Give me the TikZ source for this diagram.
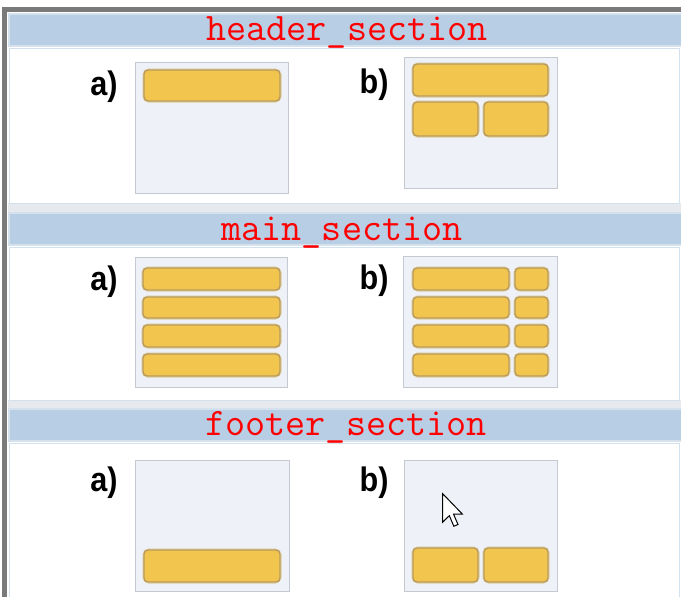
\documentclass[tikz,border=0pt]{standalone}
\usepackage{fontspec}
\setmainfont{Liberation Sans}
\definecolor{framegray}{HTML}{7A7A7A}
\definecolor{barouter}{HTML}{D5E2EE}
\definecolor{barfill}{HTML}{B7CEE5}
\definecolor{sepgray}{HTML}{E6EAEE}
\definecolor{whiteborder}{HTML}{D3E1EE}
\definecolor{panelfill}{HTML}{EEF2F8}
\definecolor{panelborder}{HTML}{C5CAD2}
\definecolor{goldfill}{HTML}{F2C54E}
\definecolor{goldedge}{HTML}{B99A5C}
\definecolor{goldshadow}{HTML}{E3D9B8}
\definecolor{titlered}{HTML}{FF0000}
\tikzset{
  titlebar/.style={fill=barfill, draw=barouter, line width=2pt},
  whitearea/.style={fill=white, draw=whiteborder, line width=1pt},
  sepband/.style={fill=sepgray},
  panel/.style={fill=panelfill, draw=panelborder, line width=1pt},
  goldbar/.style={fill=goldfill, draw=goldedge, line width=1.4pt, rounded corners=4pt},
  goldhalo/.style={draw=goldshadow, line width=3.5pt, rounded corners=5pt},
  titletext/.style={text=titlered, font=\ttfamily\fontsize{39}{39}\selectfont, anchor=base, inner sep=0pt},
  labeltext/.style={font=\bfseries\fontsize{34}{34}\selectfont, text=black, inner sep=0pt, xscale=0.9},
}
\newcommand{\gbar}[4]{%
  \draw[goldhalo] (#1,#2) rectangle (#3,#4);
  \draw[goldbar] (#1,#2) rectangle (#3,#4);}
\begin{document}
\begin{tikzpicture}[x=1pt,y=-1pt]
\useasboundingbox (0,0) rectangle (681,597);
\fill[white] (0,0) rectangle (681,597);
% frame
\fill[framegray] (2,7) rectangle (681,12);
\fill[framegray] (2,7) rectangle (7,597);
% separator bands
\fill[sepband] (8,203) rectangle (681,213);
\fill[sepband] (8,400) rectangle (681,409);
% section 1
\draw[titlebar] (9,14) rectangle (682,46);
\draw[whitearea] (9.5,48.5) rectangle (679.5,203.5);
% section 2
\draw[titlebar] (9,213) rectangle (682,245);
\draw[whitearea] (9.5,247.5) rectangle (679.5,400.5);
% section 3
\draw[titlebar] (9,409) rectangle (682,441);
\draw[whitearea] (9.5,443.5) rectangle (679.5,600);
% titles
\node[titletext] (t1) at (347,41) {header\_section};
\node[titletext] (t2) at (342,240) {main\_section};
\node[titletext] (t3) at (346,435) {footer\_section};
% labels
\node[labeltext] (ha) at (104,87) {a)};
\node[labeltext] (hb) at (374,85) {b)};
\node[labeltext] (ma) at (104,282) {a)};
\node[labeltext] (mb) at (374,281) {b)};
\node[labeltext] (fa) at (104,483) {a)};
\node[labeltext] (fb) at (374,483) {b)};
% header panels
\draw[panel] (135.5,62.5) rectangle (288.5,193.5);
\gbar{144}{70}{280}{101}
\draw[panel] (404.5,57.5) rectangle (557.5,188.5);
\gbar{413}{64}{548}{96}
\gbar{413}{102}{478}{136}
\gbar{484}{102}{548}{136}
% main panels
\draw[panel] (135.5,257.5) rectangle (287.5,387.5);
\gbar{143}{268}{280}{290}
\gbar{143}{297}{280}{318}
\gbar{143}{325}{280}{347}
\gbar{143}{354}{280}{376}
\draw[panel] (403.5,256.5) rectangle (557.5,387.5);
\foreach \ya/\yb in {268/290,297/318,325/347,354/376}{
  \gbar{413}{\ya}{509}{\yb}
  \gbar{515}{\ya}{548}{\yb}
}
% footer panels
\draw[panel] (135.5,460.5) rectangle (289.5,591.5);
\gbar{144}{550}{280}{582}
\draw[panel] (404.5,460.5) rectangle (557.5,591.5);
\gbar{413}{548}{478}{582}
\gbar{484}{548}{548}{582}
% mouse cursor
\begin{scope}[shift={(442.5,493.5)}, scale=1.8]
\draw[fill=white, draw=black, line width=1pt, line join=miter]
  (0,0) -- (0,16) -- (3.8,12.3) -- (6.3,18.2) -- (8.6,17.2) -- (6.1,11.4) -- (11,11.4) -- cycle;
\end{scope}
\end{tikzpicture}
\end{document}
